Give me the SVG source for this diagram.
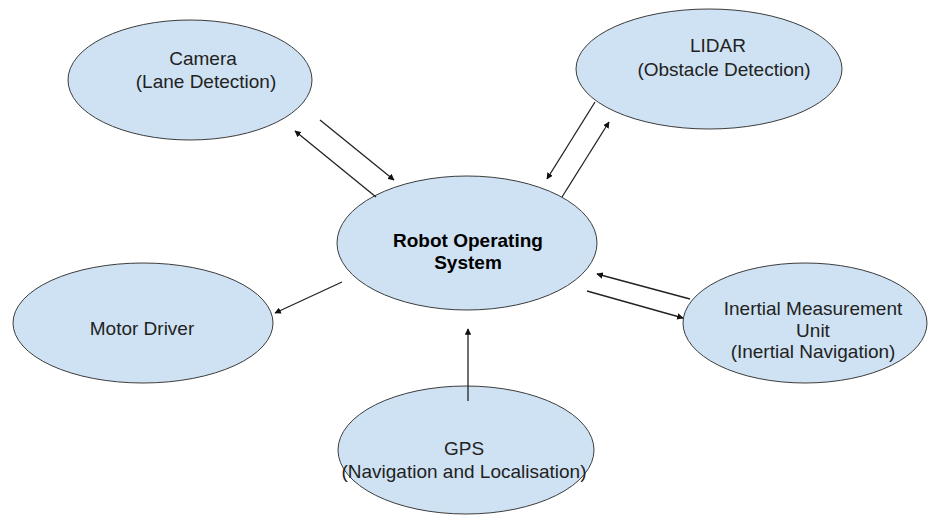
<svg xmlns="http://www.w3.org/2000/svg" width="931" height="529" viewBox="0 0 931 529">
<style>
.n{fill:#cfe2f3;stroke:#3c3c3c;stroke-width:1}
.t{font-family:"Liberation Sans",Arial,sans-serif;font-size:19px;fill:#222;text-anchor:middle}
.b{font-weight:bold;fill:#000}
.c{stroke:#222;stroke-width:1.3;fill:none;marker-end:url(#ah)}
</style>
<defs>
<marker id="ah" viewBox="0 0 10 10" refX="9" refY="5" markerWidth="5" markerHeight="5" orient="auto" markerUnits="strokeWidth">
<path d="M0,0 L10,5 L0,10 z" fill="#111"/>
</marker>
</defs>
<rect width="931" height="529" fill="#fff"/>
<g id="camera"><ellipse class="n" cx="190" cy="80" rx="122" ry="60"/><text class="t" x="203" y="65">Camera</text><text class="t" x="206" y="88">(Lane Detection)</text></g>
<g id="lidar"><ellipse class="n" cx="709" cy="69" rx="133" ry="60"/><text class="t" x="718" y="52">LIDAR</text><text class="t" x="724" y="76">(Obstacle Detection)</text></g>
<g id="ros"><ellipse class="n" cx="467" cy="243" rx="130" ry="67"/><text class="t b" x="468" y="247">Robot Operating</text><text class="t b" x="468" y="269">System</text></g>
<g id="motor"><ellipse class="n" cx="143" cy="323" rx="130" ry="60"/><text class="t" x="142" y="335">Motor Driver</text></g>
<g id="imu"><ellipse class="n" cx="805" cy="323" rx="122" ry="60"/><text class="t" x="813" y="315">Inertial Measurement</text><text class="t" x="813" y="337">Unit</text><text class="t" x="813" y="358">(Inertial Navigation)</text></g>
<g id="gps"><ellipse class="n" cx="466" cy="450" rx="128" ry="64"/><text class="t" x="464" y="455">GPS</text><text class="t" x="464" y="478">(Navigation and Localisation)</text></g>
<g id="connectors">
<line class="c" x1="376" y1="197" x2="295" y2="131"/>
<line class="c" x1="320" y1="120" x2="394" y2="180"/>
<line class="c" x1="595" y1="102" x2="547" y2="179"/>
<line class="c" x1="562" y1="197" x2="609" y2="122"/>
<line class="c" x1="690" y1="299" x2="597" y2="274"/>
<line class="c" x1="587" y1="291" x2="683" y2="318"/>
<line class="c" x1="342" y1="282" x2="275" y2="313"/>
<line class="c" x1="468" y1="401" x2="468" y2="329"/>
</g>
</svg>
